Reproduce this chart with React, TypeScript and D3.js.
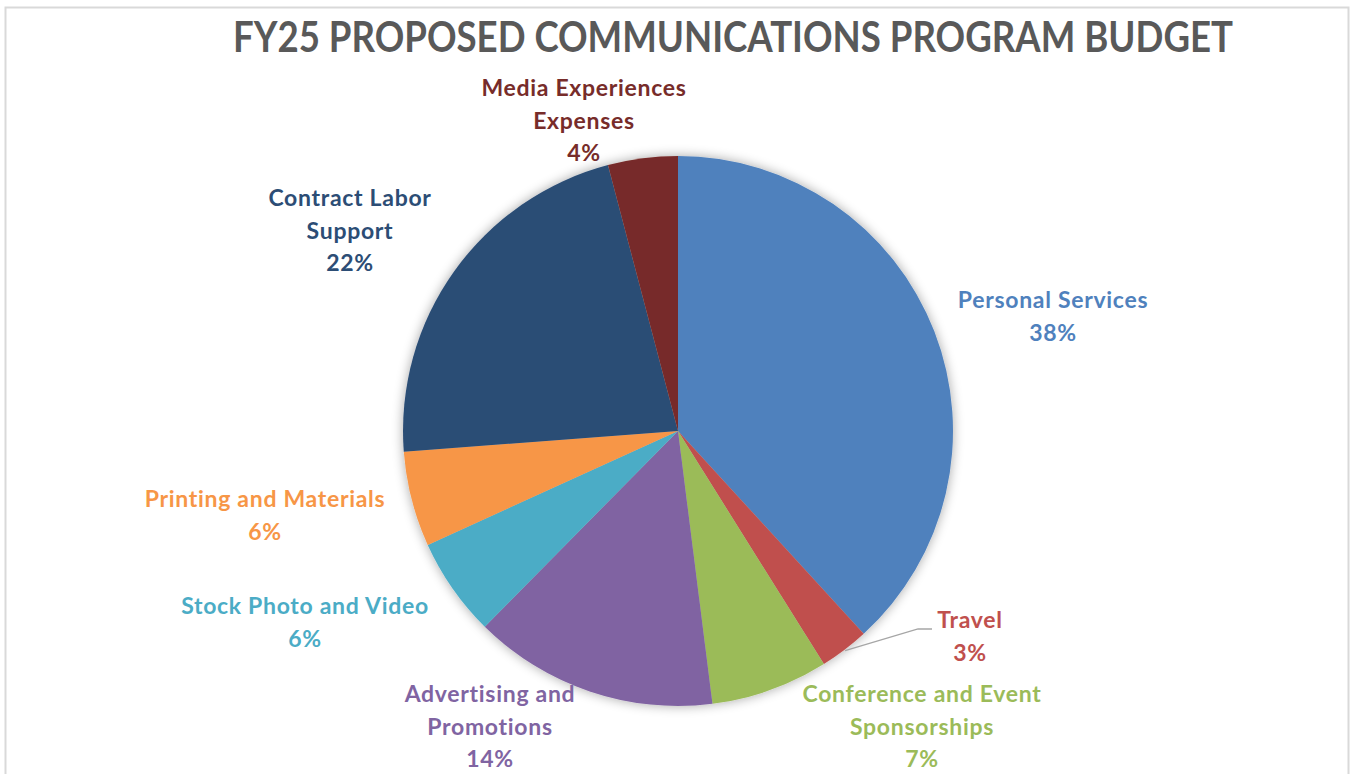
import React from "react";
import * as d3 from "d3";

const categories = [
  "Personal Services",
  "Travel",
  "Conference and Event Sponsorships",
  "Advertising and Promotions",
  "Stock Photo and Video",
  "Printing and Materials",
  "Contract Labor Support",
  "Media Experiences Expenses",
];
const shares = [38.2, 2.9, 6.9, 14.4, 5.8, 5.6, 22.1, 4.1];
const colors = ["#4F81BD", "#C0504D", "#9BBB59", "#8064A2", "#4BACC6", "#F79646", "#2C4D75", "#772C2A"];
const labelLines = [
  ["Personal Services"],
  ["Travel"],
  ["Conference and Event", "Sponsorships"],
  ["Advertising and", "Promotions"],
  ["Stock Photo and Video"],
  ["Printing and Materials"],
  ["Contract Labor", "Support"],
  ["Media Experiences", "Expenses"],
];
const title = "FY25 PROPOSED COMMUNICATIONS PROGRAM BUDGET";

// label layout (centre x, first baseline)
const labelPos: [number, number][] = [
  [1053, 308],
  [970, 628],
  [922, 702],
  [490, 702],
  [305, 614],
  [265, 507],
  [350, 206],
  [584, 96],
];

const W = 1351;
const H = 774;
const cx = 678;
const cy = 431;
const R = 275;
const LINE = 32.5;
const FONT = "Lato, 'Open Sans', sans-serif";

export default function App() {
  const pie = d3.pie<number>().sort(null).value((d) => d);
  const arcs = pie(shares);
  const arcGen = d3.arc<d3.PieArcDatum<number>>().innerRadius(0).outerRadius(R);

  // travel leader line
  const tr = arcs[1];
  const mid = (tr.startAngle + tr.endAngle) / 2;
  const p0: [number, number] = [cx + Math.sin(mid) * (R + 1), cy - Math.cos(mid) * (R + 1)];
  const leader = d3.line()([p0, [918, 629], [932, 629]]);

  return (
    <svg width={W} height={H} style={{ position: "absolute", left: 0, top: 0, background: "#fff" }}>
      <defs>
        <filter id="shadow" x="-20%" y="-20%" width="140%" height="140%">
          <feGaussianBlur in="SourceAlpha" stdDeviation="6" />
          <feOffset dx="0" dy="0" result="b" />
          <feComponentTransfer>
            <feFuncA type="linear" slope="0.35" />
          </feComponentTransfer>
          <feMerge>
            <feMergeNode />
            <feMergeNode in="SourceGraphic" />
          </feMerge>
        </filter>
      </defs>
      <rect x={5.5} y={7.5} width={1343} height={H + 20} fill="#fff" stroke="#d9d9d9" strokeWidth={2} />
      <text
        x={733}
        y={52}
        textAnchor="middle"
        fontFamily={FONT}
        fontWeight={700}
        fontSize={42}
        fill="#595959"
        textLength={1000}
        lengthAdjust="spacingAndGlyphs"
      >
        {title}
      </text>
      <g transform={`translate(${cx},${cy})`} filter="url(#shadow)">
        {arcs.map((a, i) => (
          <path key={categories[i]} d={arcGen(a) || ""} fill={colors[i]} />
        ))}
      </g>
      <path d={leader || ""} fill="none" stroke="#a6a6a6" strokeWidth={1.3} />
      {labelLines.map((lines, i) => {
        const [x, y] = labelPos[i];
        const all = [...lines, `${Math.round(shares[i])}%`];
        return (
          <text
            key={categories[i]}
            textAnchor="middle"
            fontFamily={FONT}
            fontWeight={700}
            fontSize={23}
            letterSpacing={0.7}
            fill={colors[i]}
          >
            {all.map((t, j) => (
              <tspan key={j} x={x} y={y + j * LINE}>
                {t}
              </tspan>
            ))}
          </text>
        );
      })}
    </svg>
  );
}
